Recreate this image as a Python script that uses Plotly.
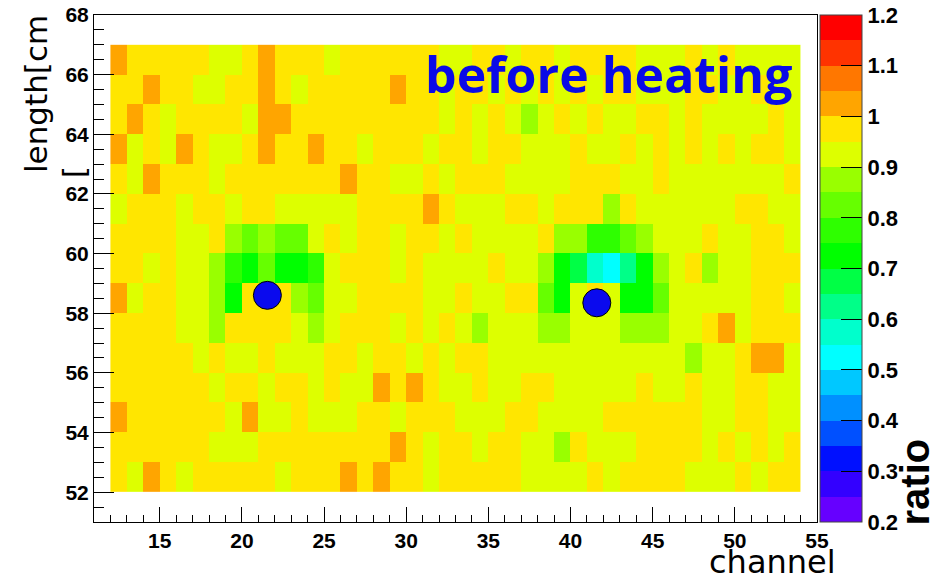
import plotly.graph_objects as go

# Bin edges of the 2D histogram
channel_edges = list(range(12, 55))   # 42 channel bins
length_edges = list(range(52, 68))    # 15 length bins [cm]

# Ratio per bin; one row per length bin, from 52 cm upward, one entry per channel 12..53
ratio = [
    [0.97, 0.93, 1.02, 0.97, 0.93, 0.97, 0.97, 0.97, 0.97, 0.97, 0.93, 0.97, 0.97, 0.97,
     1.02, 0.97, 1.02, 0.97, 0.97, 0.93, 0.97, 0.97, 0.97, 0.97, 0.97, 0.93, 0.93, 0.93,
     0.93, 0.97, 0.93, 0.97, 0.97, 0.97, 0.97, 0.93, 0.93, 0.93, 0.97, 0.93, 0.97, 0.97],
    [0.97, 0.97, 0.97, 0.97, 0.97, 0.97, 0.93, 0.93, 0.93, 0.97, 0.97, 0.97, 0.97, 0.97,
     0.97, 0.97, 0.97, 1.02, 0.97, 0.93, 0.97, 0.97, 0.93, 0.97, 0.97, 0.93, 0.93, 0.87,
     0.97, 0.93, 0.93, 0.93, 0.97, 0.97, 0.97, 0.97, 0.93, 0.97, 0.93, 0.97, 0.93, 0.97],
    [1.02, 0.97, 0.97, 0.97, 0.97, 0.97, 0.97, 0.93, 1.02, 0.93, 0.93, 0.97, 0.93, 0.93,
     0.93, 0.97, 0.97, 0.93, 0.97, 0.97, 0.97, 0.93, 0.93, 0.93, 0.97, 0.97, 0.93, 0.93,
     0.93, 0.93, 0.97, 0.97, 0.97, 0.97, 0.97, 0.97, 0.93, 0.93, 0.97, 0.97, 0.93, 0.93],
    [0.97, 0.97, 0.97, 0.97, 0.97, 0.97, 0.93, 0.97, 0.97, 0.93, 0.97, 0.97, 0.93, 0.97,
     0.93, 0.93, 1.02, 0.97, 1.02, 0.97, 0.93, 0.93, 0.97, 0.93, 0.93, 0.97, 0.97, 0.93,
     0.93, 0.93, 0.93, 0.93, 0.97, 0.93, 0.93, 0.97, 0.93, 0.93, 0.97, 0.97, 0.93, 0.93],
    [0.97, 0.97, 0.97, 0.97, 0.97, 0.93, 0.97, 0.93, 0.93, 0.97, 0.93, 0.93, 0.93, 0.97,
     0.97, 0.93, 0.97, 0.97, 0.93, 0.97, 0.93, 0.97, 0.97, 0.93, 0.93, 0.93, 0.93, 0.93,
     0.93, 0.93, 0.93, 0.93, 0.93, 0.93, 0.93, 0.87, 0.93, 0.93, 0.97, 1.02, 1.02, 0.93],
    [0.97, 0.97, 0.97, 0.97, 0.93, 0.93, 0.87, 0.97, 0.97, 0.97, 0.97, 0.93, 0.87, 0.93,
     0.97, 0.97, 0.97, 0.93, 0.97, 0.93, 0.97, 0.93, 0.87, 0.93, 0.93, 0.93, 0.87, 0.87,
     0.93, 0.93, 0.93, 0.87, 0.87, 0.87, 0.93, 0.93, 0.97, 1.02, 0.93, 0.97, 0.97, 0.97],
    [1.02, 0.93, 0.97, 0.97, 0.93, 0.93, 0.87, 0.72, 0.97, 0.97, 0.97, 0.87, 0.82, 0.93,
     0.93, 0.97, 0.97, 0.97, 0.97, 0.93, 0.93, 0.97, 0.93, 0.93, 0.97, 0.97, 0.82, 0.72,
     0.93, 0.97, 0.93, 0.72, 0.72, 0.82, 0.93, 0.93, 0.93, 0.93, 0.93, 0.97, 0.97, 0.93],
    [0.97, 0.97, 0.93, 0.97, 0.93, 0.93, 0.87, 0.77, 0.72, 0.82, 0.72, 0.72, 0.77, 0.93,
     0.97, 0.97, 0.97, 0.93, 0.97, 0.93, 0.93, 0.93, 0.93, 0.97, 0.93, 0.93, 0.87, 0.72,
     0.67, 0.57, 0.52, 0.62, 0.72, 0.87, 0.93, 0.97, 0.87, 0.93, 0.93, 0.97, 0.97, 0.97],
    [0.97, 0.97, 0.97, 0.97, 0.93, 0.93, 0.97, 0.87, 0.82, 0.87, 0.82, 0.82, 0.93, 0.97,
     0.93, 0.97, 0.97, 0.93, 0.97, 0.97, 0.93, 0.97, 0.93, 0.93, 0.93, 0.93, 0.97, 0.87,
     0.87, 0.77, 0.77, 0.82, 0.87, 0.93, 0.93, 0.93, 0.97, 0.93, 0.93, 0.97, 0.97, 0.93],
    [0.93, 0.97, 0.97, 0.97, 0.93, 0.97, 0.97, 0.93, 0.97, 0.97, 0.93, 0.93, 0.93, 0.93,
     0.93, 0.97, 0.97, 0.97, 0.97, 1.02, 0.97, 0.93, 0.93, 0.93, 0.97, 0.97, 0.93, 0.97,
     0.97, 0.97, 0.87, 0.97, 0.93, 0.93, 0.93, 0.93, 0.93, 0.93, 0.97, 0.97, 0.93, 0.93],
    [0.97, 0.93, 1.02, 0.97, 0.97, 0.97, 0.93, 0.97, 0.97, 0.97, 0.97, 0.97, 0.97, 0.97,
     1.02, 0.97, 0.97, 0.93, 0.93, 0.97, 0.93, 0.97, 0.97, 0.97, 0.93, 0.93, 0.93, 0.93,
     0.97, 0.97, 0.97, 0.93, 0.93, 0.97, 0.93, 0.93, 0.93, 0.93, 0.93, 0.93, 0.93, 0.97],
    [1.02, 0.93, 0.97, 0.93, 1.02, 0.97, 0.93, 0.93, 0.97, 1.02, 0.97, 0.97, 1.02, 0.97,
     0.97, 0.93, 0.97, 0.97, 0.97, 0.93, 0.97, 0.97, 0.93, 0.97, 0.97, 0.93, 0.93, 0.93,
     0.97, 0.93, 0.93, 0.97, 0.93, 0.97, 0.93, 0.97, 0.93, 0.97, 0.93, 0.97, 0.97, 0.93],
    [0.97, 1.02, 0.97, 0.93, 0.97, 0.97, 0.97, 0.97, 0.93, 1.02, 1.02, 0.97, 0.97, 0.97,
     0.97, 0.97, 0.97, 0.97, 0.97, 0.97, 0.93, 0.97, 0.93, 0.97, 0.93, 0.87, 0.93, 0.97,
     0.93, 0.97, 0.93, 0.93, 0.97, 0.97, 0.93, 0.97, 0.93, 0.93, 0.93, 0.93, 0.97, 0.93],
    [0.97, 0.97, 1.02, 0.97, 0.97, 0.93, 0.93, 0.97, 0.97, 1.02, 0.97, 0.93, 0.97, 0.97,
     0.97, 0.97, 0.97, 1.02, 0.97, 0.97, 0.93, 0.97, 0.97, 0.93, 0.97, 0.93, 0.97, 0.93,
     0.97, 0.93, 0.97, 0.97, 0.93, 0.93, 0.93, 0.97, 0.97, 0.93, 0.93, 0.97, 0.93, 0.93],
    [1.02, 0.97, 0.97, 0.97, 0.97, 0.97, 0.93, 0.93, 0.97, 1.02, 0.97, 0.97, 0.97, 0.93,
     0.97, 0.97, 0.97, 0.97, 0.97, 0.97, 0.93, 0.93, 0.97, 0.97, 0.93, 0.97, 0.97, 0.93,
     0.97, 0.97, 0.97, 0.97, 0.93, 0.93, 0.93, 0.97, 0.93, 0.97, 0.93, 0.93, 0.93, 0.93],
]

# Heater positions (channel, length)
probe_channel = [21.55, 41.6]
probe_length = [58.6, 58.35]

# Colour axis ticks
ratio_ticks = [0.2, 0.3, 0.4, 0.5, 0.6, 0.7, 0.8, 0.9, 1.0, 1.1, 1.2]
ratio_ticktext = ["0.2", "0.3", "0.4", "0.5", "0.6", "0.7", "0.8", "0.9", "1", "1.1", "1.2"]
channel_ticks = [15, 20, 25, 30, 35, 40, 45, 50, 55]
length_ticks = [52, 54, 56, 58, 60, 62, 64, 66, 68]

# 20-level palette, 0.2 -> 1.2 in steps of 0.05
palette = ["#6600ff", "#3300ff", "#0010ff", "#0050ff", "#0090ff", "#00c8ff", "#00ffff",
           "#00ffcc", "#00ff88", "#00ff45", "#00ff00", "#2eff00", "#66ff00", "#99ff00",
           "#ddff00", "#ffe600", "#ffa500", "#ff7700", "#ff3300", "#ff0000"]
n_levels = len(palette)
colorscale = []
for i, c in enumerate(palette):
    colorscale.append([i / n_levels, c])
    colorscale.append([(i + 1) / n_levels, c])

tick_font = dict(family="Liberation Sans, Arial, sans-serif", size=21, color="black", weight="bold")

fig = go.Figure()
fig.add_trace(go.Heatmap(
    z=ratio, x=channel_edges, y=length_edges,
    zmin=0.2, zmax=1.2, colorscale=colorscale,
    colorbar=dict(
        x=1.004, xanchor="left", y=0.5, yanchor="middle",
        len=1.0, lenmode="fraction", thickness=42, thicknessmode="pixels",
        outlinewidth=1, outlinecolor="#444444",
        tickmode="array", tickvals=ratio_ticks, ticktext=ratio_ticktext,
        ticks="inside", ticklen=21, tickcolor="black", tickwidth=1,
        tickfont=dict(family="Liberation Sans, Arial, sans-serif", size=22, color="black", weight="bold"),
        xpad=0, ypad=0,
    ),
    hoverinfo="skip",
))

fig.add_trace(go.Scatter(
    x=probe_channel, y=probe_length, mode="markers",
    marker=dict(size=28, color="#0a0aee", line=dict(color="black", width=1)),
    showlegend=False, hoverinfo="skip",
))

fig.update_xaxes(
    range=[11, 55], showline=True, linecolor="black", linewidth=1, mirror=True,
    showgrid=False, zeroline=False,
    tickmode="array", tickvals=channel_ticks, ticks="inside", ticklen=15, tickcolor="black",
    minor=dict(dtick=1, ticks="inside", ticklen=7, tickcolor="black", showgrid=False),
    tickfont=tick_font,
)
fig.update_yaxes(
    range=[51, 68], showline=True, linecolor="black", linewidth=1, mirror=True,
    showgrid=False, zeroline=False,
    tickmode="array", tickvals=length_ticks, ticks="inside", ticklen=20, tickcolor="black",
    minor=dict(dtick=0.5, ticks="inside", ticklen=10, tickcolor="black", showgrid=False),
    tickfont=tick_font,
)

plot_w = 933 - 94 - 116
plot_h = 578 - 15 - 56


def px(xp):
    return (xp - 94) / plot_w


def py(yp):
    return (578 - 56 - yp) / plot_h


annotations = [
    dict(text="before heating", x=px(423), y=py(74), xanchor="left", yanchor="middle",
         font=dict(family="Open Sans, Noto Sans, sans-serif", size=50, color="#0a0ae6", weight="bold")),
    dict(text="channel", x=px(838), y=py(562), xanchor="right", yanchor="middle",
         font=dict(family="DejaVu Sans, sans-serif", size=32, color="black")),
    dict(text="length[cm", x=px(36), y=py(13), xanchor="center", yanchor="top", textangle=-90,
         font=dict(family="DejaVu Sans, sans-serif", size=31, color="black")),
    dict(text="]", x=px(77), y=py(172), xanchor="center", yanchor="middle", textangle=90,
         font=dict(family="DejaVu Sans, sans-serif", size=31, color="black")),
    dict(text="ratio", x=px(914), y=py(528), xanchor="center", yanchor="bottom", textangle=-90,
         font=dict(family="Liberation Sans, Arial, sans-serif", size=40, color="black", weight="bold")),
]
for a in annotations:
    a.update(xref="paper", yref="paper", showarrow=False)

fig.update_layout(
    width=933, height=578,
    margin=dict(l=94, r=116, t=15, b=56, autoexpand=False),
    paper_bgcolor="white", plot_bgcolor="white",
    showlegend=False,
    annotations=annotations,
)

fig.write_html("out.html")
